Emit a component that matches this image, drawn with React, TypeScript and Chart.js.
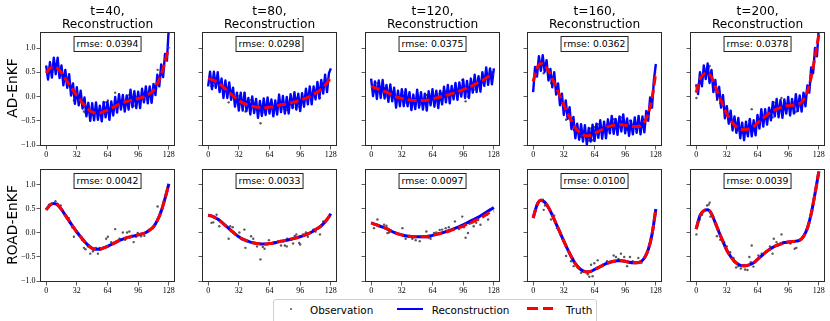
import React, { useEffect, useRef } from 'react';
import { Chart, registerables } from 'chart.js';
Chart.register(...registerables);

// ---------- data ----------
const times = [40, 80, 120, 160, 200];
const rmseAD = ['0.0394', '0.0298', '0.0375', '0.0362', '0.0378'];
const rmseROAD = ['0.0042', '0.0033', '0.0097', '0.0100', '0.0039'];
const rowLabels = ['AD-EnKF', 'ROAD-EnKF'];
const xTicks = [0, 32, 64, 96, 128];
const yTicks = [-1, -0.5, 0, 0.5, 1];

const truthX = [0, 4, 8, 12, 16, 20, 24, 28, 32, 36, 40, 44, 48, 52, 56, 60, 64, 68, 72, 76, 80, 84, 88, 92, 96, 100, 104, 108, 112, 116, 120, 124, 128];
const reconX = [0, 2, 4, 6, 8, 10, 12, 14, 16, 18, 20, 22, 24, 26, 28, 30, 32, 34, 36, 38, 40, 42, 44, 46, 48, 50, 52, 54, 56, 58, 60, 62, 64, 66, 68, 70, 72, 74, 76, 78, 80, 82, 84, 86, 88, 90, 92, 94, 96, 98, 100, 102, 104, 106, 108, 110, 112, 114, 116, 118, 120, 122, 124, 126, 128];

const truth40 = [0.48, 0.58, 0.61, 0.58, 0.49, 0.37, 0.25, 0.13, 0.02, -0.08, -0.18, -0.26, -0.32, -0.34, -0.34, -0.31, -0.28, -0.24, -0.20, -0.16, -0.13, -0.10, -0.08, -0.06, -0.04, -0.02, 0.01, 0.06, 0.13, 0.26, 0.45, 0.72, 1.02];
const truth80 = [0.37, 0.35, 0.31, 0.26, 0.19, 0.12, 0.05, -0.02, -0.08, -0.13, -0.16, -0.19, -0.21, -0.22, -0.23, -0.23, -0.22, -0.21, -0.19, -0.17, -0.16, -0.14, -0.12, -0.10, -0.08, -0.05, -0.02, 0.02, 0.07, 0.12, 0.19, 0.28, 0.40];
const truth120 = [0.21, 0.18, 0.15, 0.12, 0.09, 0.05, 0.01, -0.02, -0.04, -0.06, -0.07, -0.08, -0.08, -0.08, -0.08, -0.07, -0.05, -0.03, -0.01, 0.01, 0.03, 0.06, 0.08, 0.11, 0.14, 0.18, 0.21, 0.25, 0.29, 0.33, 0.38, 0.43, 0.46];
const truth160 = [0.31, 0.58, 0.68, 0.64, 0.53, 0.37, 0.19, 0.01, -0.17, -0.34, -0.50, -0.64, -0.73, -0.79, -0.81, -0.80, -0.76, -0.72, -0.68, -0.64, -0.61, -0.59, -0.58, -0.58, -0.59, -0.61, -0.62, -0.62, -0.60, -0.52, -0.35, -0.03, 0.50];
const truth200 = [0.08, 0.36, 0.46, 0.48, 0.40, 0.21, 0.01, -0.18, -0.36, -0.49, -0.59, -0.65, -0.68, -0.68, -0.66, -0.62, -0.55, -0.48, -0.41, -0.35, -0.30, -0.26, -0.23, -0.20, -0.19, -0.18, -0.17, -0.15, -0.07, 0.10, 0.40, 0.82, 1.28];

// AD-EnKF reconstructions (noisy), on reconX
const ad40 = [0.64, 0.35, 0.71, 0.39, 0.80, 0.46, 0.80, 0.38, 0.64, 0.23, 0.55, 0.18, 0.46, 0.02, 0.27, -0.15, 0.19, -0.18, 0.12, -0.25, -0.02, -0.41, -0.13, -0.50, -0.14, -0.49, -0.12, -0.48, -0.19, -0.51, -0.11, -0.43, -0.11, -0.48, -0.10, -0.39, -0.01, -0.33, 0.05, -0.27, 0.03, -0.31, 0.02, -0.27, 0.14, -0.22, 0.11, -0.24, 0.10, -0.24, 0.16, -0.12, 0.21, -0.14, 0.21, -0.13, 0.26, 0.03, 0.45, 0.21, 0.66, 0.40, 0.88, 0.74, 1.45];
const ad80 = [0.21, 0.51, 0.15, 0.51, 0.18, 0.50, 0.09, 0.37, -0.03, 0.33, -0.03, 0.29, -0.07, 0.18, -0.21, 0.08, -0.29, 0.08, -0.29, 0.08, -0.30, -0.03, -0.37, 0.00, -0.34, -0.05, -0.44, -0.09, -0.40, -0.04, -0.38, -0.02, -0.35, -0.06, -0.41, -0.08, -0.37, 0.04, -0.32, 0.01, -0.35, -0.01, -0.35, 0.05, -0.24, 0.09, -0.27, 0.06, -0.30, 0.07, -0.21, 0.16, -0.16, 0.21, -0.16, 0.21, -0.06, 0.30, -0.04, 0.34, 0.06, 0.45, 0.09, 0.48, 0.58];
const ad120 = [0.37, 0.01, 0.31, -0.05, 0.33, -0.03, 0.34, -0.04, 0.24, -0.11, 0.25, -0.10, 0.18, -0.23, 0.12, -0.20, 0.15, -0.20, 0.15, -0.20, 0.09, -0.28, 0.04, -0.26, 0.14, -0.23, 0.09, -0.27, 0.06, -0.29, 0.11, -0.18, 0.15, -0.21, 0.12, -0.24, 0.12, -0.16, 0.20, -0.12, 0.24, -0.14, 0.22, -0.06, 0.28, -0.07, 0.29, 0.00, 0.35, -0.03, 0.32, -0.03, 0.37, 0.08, 0.45, 0.09, 0.42, 0.10, 0.50, 0.22, 0.60, 0.24, 0.58, 0.25, 0.58];
const ad160 = [0.09, 0.61, 0.41, 0.83, 0.53, 0.85, 0.51, 0.75, 0.33, 0.57, 0.19, 0.50, 0.04, 0.27, -0.18, 0.06, -0.38, -0.08, -0.46, -0.22, -0.67, -0.42, -0.86, -0.56, -0.89, -0.57, -0.93, -0.59, -0.99, -0.65, -0.93, -0.58, -0.92, -0.56, -0.85, -0.49, -0.87, -0.52, -0.86, -0.47, -0.76, -0.40, -0.77, -0.46, -0.79, -0.41, -0.72, -0.37, -0.76, -0.45, -0.81, -0.50, -0.78, -0.43, -0.75, -0.40, -0.78, -0.41, -0.74, -0.30, -0.50, -0.02, -0.23, 0.35, 0.67];
const ad200 = [0.25, 0.05, 0.50, 0.21, 0.64, 0.36, 0.68, 0.28, 0.55, 0.09, 0.34, -0.05, 0.20, -0.23, 0.03, -0.45, -0.20, -0.56, -0.29, -0.70, -0.41, -0.75, -0.44, -0.86, -0.54, -0.90, -0.52, -0.82, -0.46, -0.82, -0.49, -0.80, -0.38, -0.66, -0.26, -0.62, -0.26, -0.58, -0.23, -0.49, -0.11, -0.41, -0.05, -0.43, -0.07, -0.44, -0.06, -0.35, -0.01, -0.39, -0.05, -0.35, 0.05, -0.30, 0.02, -0.31, 0.08, -0.20, 0.23, 0.08, 0.60, 0.48, 1.00, 0.83, 1.43];

// ROAD-EnKF reconstructions, on truthX
const road40 = [0.48, 0.58, 0.61, 0.58, 0.49, 0.37, 0.25, 0.13, 0.02, -0.08, -0.18, -0.26, -0.32, -0.34, -0.34, -0.31, -0.28, -0.24, -0.20, -0.16, -0.13, -0.10, -0.08, -0.06, -0.04, -0.02, 0.01, 0.06, 0.13, 0.26, 0.45, 0.72, 1.02];
const road80 = [0.37, 0.35, 0.31, 0.26, 0.19, 0.12, 0.05, -0.02, -0.08, -0.13, -0.16, -0.19, -0.21, -0.22, -0.23, -0.23, -0.22, -0.21, -0.19, -0.17, -0.16, -0.14, -0.12, -0.10, -0.08, -0.05, -0.02, 0.02, 0.07, 0.12, 0.19, 0.28, 0.40];
const road120 = [0.21, 0.18, 0.15, 0.12, 0.09, 0.05, 0.01, -0.02, -0.04, -0.06, -0.07, -0.08, -0.08, -0.08, -0.08, -0.07, -0.05, -0.03, -0.01, 0.015, 0.04, 0.07, 0.10, 0.13, 0.17, 0.21, 0.25, 0.29, 0.33, 0.38, 0.43, 0.48, 0.53];
const road160 = [0.31, 0.58, 0.68, 0.64, 0.53, 0.37, 0.19, 0.01, -0.17, -0.34, -0.50, -0.64, -0.73, -0.79, -0.81, -0.80, -0.76, -0.72, -0.68, -0.64, -0.61, -0.59, -0.58, -0.58, -0.59, -0.61, -0.62, -0.62, -0.60, -0.52, -0.35, -0.03, 0.50];
const road200 = [0.08, 0.36, 0.46, 0.48, 0.40, 0.21, 0.01, -0.18, -0.36, -0.49, -0.59, -0.65, -0.68, -0.68, -0.66, -0.62, -0.55, -0.48, -0.41, -0.35, -0.30, -0.26, -0.23, -0.20, -0.19, -0.18, -0.17, -0.15, -0.07, 0.10, 0.40, 0.82, 1.28];

// observations
const obsX40 = [3.1, 9.7, 11.8, 13.5, 15.2, 18.7, 21, 23.5, 24.6, 27.3, 29, 31.5, 34, 37.4, 39.4, 41, 43.6, 46, 48.8, 52, 54, 55.7, 62.6, 64.4, 67.8, 72, 76.5, 80, 82.4, 84.4, 86.8, 89.3, 91.3, 93.8, 95.5, 99, 102.4, 107.6, 116.3, 119.7];
const obsY40 = [0.59, 0.66, 0.61, 0.55, 0.57, 0.41, 0.34, 0.31, 0.21, 0.12, -0.08, 0.02, -0.03, -0.14, -0.31, -0.34, -0.28, -0.43, -0.38, -0.31, -0.43, -0.31, -0.12, -0.08, -0.19, 0.08, -0.12, 0.01, -0.14, 0.01, 0.03, -0.06, -0.19, -0.08, 0.00, -0.07, -0.06, 0.07, 0.55, 0.45];
const obsX80 = [3.5, 5.3, 8.8, 10.9, 11.6, 13, 21.4, 23, 25.6, 32.6, 37.8, 38.9, 40, 44.8, 47, 51, 54.6, 57, 58.8, 63.4, 69.3, 76, 80, 82, 82.5, 86.8, 88.6, 90.3, 92, 95, 96, 99, 102, 104, 106.8, 109.6, 112, 114.8, 116.6, 120];
const obsY80 = [0.21, 0.22, 0.38, 0.28, 0.14, 0.24, -0.12, 0.14, 0.12, 0.01, 0.07, -0.31, -0.17, -0.07, -0.12, -0.28, -0.55, -0.29, -0.33, -0.15, -0.19, -0.26, -0.26, -0.28, -0.12, -0.14, -0.22, -0.06, -0.03, -0.21, -0.24, -0.03, 0.01, -0.08, 0.00, 0.07, 0.03, 0.10, -0.03, 0.24];
const obsX120 = [3, 6.6, 13.5, 16, 17, 18.7, 32.6, 36, 39.6, 43, 46.5, 50.7, 53.4, 57.6, 59.7, 62, 65.6, 68, 71.5, 74, 77.7, 81, 87.4, 91.6, 95, 96.8, 98.5, 101, 102.7, 105.5, 107, 109.6, 111.7, 114, 121, 122, 125.6];
const obsY120 = [0.10, 0.28, 0.17, 0.15, 0.00, 0.01, 0.10, -0.12, -0.07, -0.12, -0.15, -0.17, -0.08, 0.03, -0.10, -0.12, 0.00, 0.01, 0.06, 0.07, 0.10, 0.12, 0.24, 0.08, 0.34, 0.12, -0.10, 0.00, 0.19, 0.24, 0.14, 0.21, 0.28, 0.17, 0.38, 0.28, 0.50];
const obsX160 = [4.9, 7.6, 10, 11, 12.5, 16, 18.7, 22, 25, 28.5, 32, 34.4, 36, 39.6, 42.3, 46.5, 50, 52.7, 57, 58.6, 60.4, 62, 63.8, 67.3, 72.5, 77, 84, 86.4, 89, 91.6, 95, 98, 101, 103.8, 109.7, 113];
const obsY160 = [0.63, 0.67, 0.69, 0.48, 0.57, 0.52, 0.28, 0.36, 0.10, -0.03, -0.17, -0.48, -0.34, -0.59, -0.69, -0.72, -0.83, -0.81, -0.86, -0.91, -0.66, -0.90, -0.63, -0.57, -0.66, -0.59, -0.47, -0.50, -0.54, -0.43, -0.50, -0.69, -0.50, -0.59, -0.52, -0.62];
const obsX200 = [0.3, 3.8, 6.2, 11.4, 13.1, 14.1, 14.8, 21.7, 25.2, 29.3, 32, 35.5, 39, 41.7, 44, 46.6, 51, 53.5, 55.5, 57, 58, 59.7, 64.9, 68.3, 73.5, 77, 79.7, 81, 83.8, 89, 90.7, 98.3, 102.8, 104.5, 107.3];
const obsY200 = [-0.03, 0.28, 0.38, 0.57, 0.59, 0.63, 0.34, -0.07, -0.14, -0.19, -0.28, -0.40, -0.52, -0.72, -0.69, -0.74, -0.76, -0.77, -0.50, -0.61, -0.26, -0.70, -0.47, -0.43, -0.38, -0.28, -0.43, -0.12, -0.19, -0.03, -0.21, -0.22, -0.33, -0.31, -0.15];

const truthSeries = [truth40, truth80, truth120, truth160, truth200];
const adSeries = [ad40, ad80, ad120, ad160, ad200];
const roadSeries = [road40, road80, road120, road160, road200];
const obsXSeries = [obsX40, obsX80, obsX120, obsX160, obsX200];
const obsYSeries = [obsY40, obsY80, obsY120, obsY160, obsY200];

// ---------- layout ----------
const COL_LEFT = [40, 202, 365, 527, 690];
const PLOT_W = 135;
const ROW_TOP = [32, 169];
const PLOT_H = [114, 113];
const YW = 40, PT = 8, PR = 10, XH = 16;
const SANS = '"DejaVu Sans", sans-serif';

const framePlugin = {
  id: 'frame',
  afterDraw(chart: any) {
    const { ctx, chartArea: a } = chart;
    ctx.save();
    ctx.strokeStyle = '#2a2a2a';
    ctx.lineWidth = 1;
    ctx.strokeRect(Math.round(a.left) + 0.5, Math.round(a.top) + 0.5, Math.round(a.right - a.left) - 1, Math.round(a.bottom - a.top) - 1);
    ctx.restore();
  },
};

function fmtY(v: number) {
  const s = Math.abs(v).toFixed(1);
  return v < -1e-9 ? '\u2212' + s : s;
}

function Panel({ col, row }: { col: number; row: number }) {
  const ref = useRef<HTMLCanvasElement>(null);
  const w = YW + PLOT_W + PR;
  const h = PT + PLOT_H[row] + XH;
  useEffect(() => {
    const truth = truthSeries[col];
    const recon = row === 0 ? adSeries[col] : roadSeries[col];
    const rx = row === 0 ? reconX : truthX;
    const ox = obsXSeries[col];
    const oy = obsYSeries[col];
    const tickFont = { family: '"Liberation Serif", serif', size: 8 };
    const grid = { display: true, drawOnChartArea: false, drawTicks: true, tickLength: 3.5, color: '#333', lineWidth: 0.8 };
    const chart = new Chart(ref.current as HTMLCanvasElement, {
      type: 'line',
      data: {
        datasets: [
          {
            label: 'Truth',
            data: truthX.map((x, i) => ({ x, y: truth[i] })),
            borderColor: '#ff0000',
            borderWidth: 3,
            borderDash: [9, 4],
            pointRadius: 0,
            cubicInterpolationMode: 'monotone',
            fill: false,
            order: 0,
          } as any,
          {
            label: 'Reconstruction',
            data: rx.map((x, i) => ({ x, y: recon[i] })),
            borderColor: '#0000ff',
            borderWidth: row === 0 ? 2.4 : 3,
            borderJoinStyle: 'round',
            pointRadius: 0,
            tension: 0,
            cubicInterpolationMode: row === 0 ? 'default' : 'monotone',
            fill: false,
            clip: 0,
            order: 1,
          } as any,
          {
            label: 'Observation',
            data: ox.map((x, i) => ({ x, y: oy[i] })),
            showLine: false,
            pointRadius: 1.2,
            pointBackgroundColor: 'rgba(70,70,70,0.9)',
            pointBorderWidth: 0,
            pointHoverRadius: 0,
            order: 2,
          } as any,
        ],
      },
      options: {
        animation: false,
        responsive: false,
        devicePixelRatio: 1,
        events: [],
        layout: { autoPadding: false, padding: { top: PT, right: PR, left: 0, bottom: 0 } },
        plugins: { legend: { display: false }, tooltip: { enabled: false }, title: { display: false } },
        scales: {
          x: {
            type: 'linear',
            min: -6.4,
            max: 134.4,
            afterBuildTicks: (s: any) => { s.ticks = xTicks.map((v) => ({ value: v })); },
            afterFit: (s: any) => { s.height = XH; },
            grid,
            border: { display: false },
            ticks: { font: tickFont, color: '#000', padding: 1, maxRotation: 0, autoSkip: false, callback: (v: any) => String(v) },
          },
          y: {
            type: 'linear',
            min: -1.02,
            max: 1.33,
            afterBuildTicks: (s: any) => { s.ticks = yTicks.map((v) => ({ value: v })); },
            afterFit: (s: any) => { s.width = YW; },
            grid,
            border: { display: false },
            ticks: { display: col === 0, font: tickFont, color: '#000', padding: 1, autoSkip: false, callback: (v: any) => fmtY(Number(v)) },
          },
        },
      } as any,
      plugins: [framePlugin],
    });
    return () => chart.destroy();
  }, [col, row]);
  return (
    <canvas
      ref={ref}
      width={w}
      height={h}
      style={{ position: 'absolute', left: COL_LEFT[col] - YW, top: ROW_TOP[row] - PT, width: w, height: h }}
    />
  );
}

export default function App() {
  const panels: any[] = [];
  for (let r = 0; r < 2; r++) for (let c = 0; c < 5; c++) panels.push(<Panel key={`p${r}${c}`} col={c} row={r} />);
  return (
    <div style={{ position: 'absolute', left: 0, top: 0, width: 830, height: 321, overflow: 'hidden', background: '#fff' }}>
      {panels}
      {times.map((t, c) => (
        <div key={`t${c}`} style={{ position: 'absolute', left: COL_LEFT[c] - 20, width: PLOT_W + 40, top: 4.5, textAlign: 'center', fontFamily: SANS, fontSize: 12.2, lineHeight: '13.7px', color: '#000' }}>
          t={t},<br />Reconstruction
        </div>
      ))}
      {[rmseAD, rmseROAD].map((arr, r) =>
        arr.map((v, c) => (
          <div key={`r${r}${c}`} style={{ position: 'absolute', left: COL_LEFT[c] + PLOT_W / 2, top: ROW_TOP[r] + 4, transform: 'translateX(-50%)', border: '1px solid #222', background: '#fff', fontFamily: SANS, fontSize: 9.3, lineHeight: '14px', padding: '0 2.5px', whiteSpace: 'nowrap', color: '#000' }}>
            rmse: {v}
          </div>
        ))
      )}
      {rowLabels.map((lab, r) => (
        <div key={`l${r}`} style={{ position: 'absolute', left: 11.5, top: ROW_TOP[r] + PLOT_H[r] / 2 - 1, transform: 'translate(-50%,-50%) rotate(-90deg)', fontFamily: SANS, fontSize: 13.8, lineHeight: '16px', whiteSpace: 'nowrap', color: '#000' }}>
          {lab}
        </div>
      ))}
      <div style={{ position: 'absolute', left: 273, top: 299, width: 324, height: 26, border: '1px solid #cfcfcf', borderRadius: 3, boxSizing: 'border-box', background: '#fff' }} />
      <div style={{ position: 'absolute', left: 289.5, top: 308.1, width: 2.4, height: 2.4, borderRadius: '50%', background: '#555' }} />
      <div style={{ position: 'absolute', left: 310, top: 303.7, fontFamily: SANS, fontSize: 10.4, lineHeight: '12px', whiteSpace: 'nowrap', color: '#000' }}>Observation</div>
      <div style={{ position: 'absolute', left: 396.7, top: 307.6, width: 26, height: 2, background: '#0000ff' }} />
      <div style={{ position: 'absolute', left: 431.7, top: 303.7, fontFamily: SANS, fontSize: 10.4, lineHeight: '12px', whiteSpace: 'nowrap', color: '#000' }}>Reconstruction</div>
      <div style={{ position: 'absolute', left: 526.7, top: 307.2, width: 11.5, height: 3, background: '#ff0000' }} />
      <div style={{ position: 'absolute', left: 542.7, top: 307.2, width: 10.5, height: 3, background: '#ff0000' }} />
      <div style={{ position: 'absolute', left: 566, top: 303.7, fontFamily: SANS, fontSize: 10.4, lineHeight: '12px', whiteSpace: 'nowrap', color: '#000' }}>Truth</div>
    </div>
  );
}
